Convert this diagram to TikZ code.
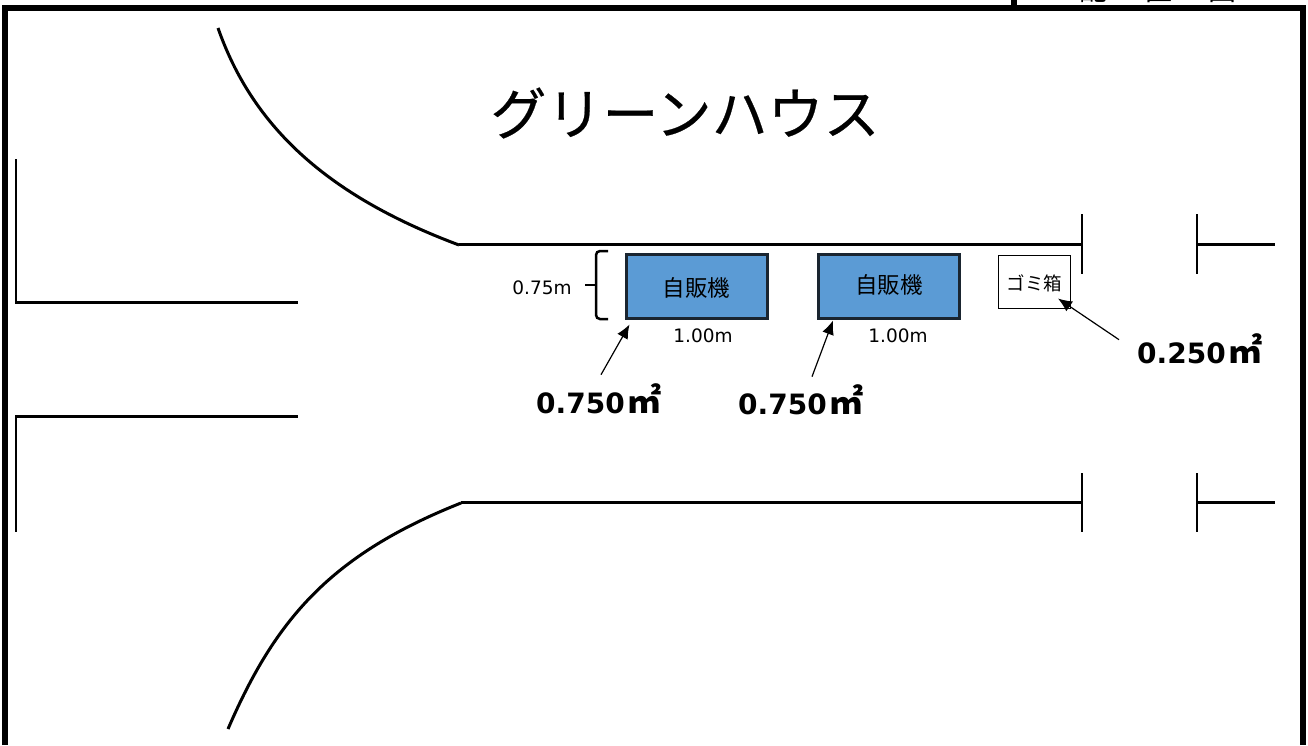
\documentclass[tikz,border=0pt]{standalone}
\usepackage{fontspec}
\setmainfont{DejaVu Sans}
\newfontfamily\jpfont{Noto Sans CJK JP}
\newfontfamily\titlefont[FakeBold=0.4]{Noto Sans CJK JP}
\usepackage{tikz}
\usetikzlibrary{positioning, calc, arrows.meta}
\definecolor{colorbox}{HTML}{5B9BD5}
\definecolor{colorborder}{HTML}{1A2530}
\tikzstyle{road}=[line width=3pt]
\tikzstyle{post}=[line width=2.5pt]
\tikzstyle{wall}=[line width=6pt]
\tikzstyle{infer}=[line width=1.2pt, -{Latex[length=14pt,width=12pt]}]
\tikzstyle{vending}=[draw=colorborder, line width=3pt, fill=colorbox, minimum width=141pt, minimum height=64pt, inner sep=0pt, font=\jpfont\fontsize{22.5}{24}\selectfont]
\tikzstyle{dim}=[inner sep=0pt, font=\fontsize{18.5}{20}\selectfont]
\tikzstyle{area}=[inner sep=0pt, font=\bfseries\fontsize{28}{30}\selectfont]
\newcommand{\sqm}{\hspace{3pt}{\jpfont\bfseries\fontsize{34}{34}\selectfont ㎡}}

\begin{document}
\begin{tikzpicture}[x=1pt,y=-1pt]
\useasboundingbox (0,0) rectangle (1308,745);

% frame
\draw[wall] (5,745) -- (5,8) -- (1302.5,8) -- (1302.5,745);
\draw[wall] (1014,0) -- (1014,5);
\node[inner sep=0pt, anchor=south, font=\jpfont\fontsize{28}{30}\selectfont](sheet) at (1158,3){配\hspace{37pt}置\hspace{37pt}図};

\node[inner sep=0pt, font=\titlefont\fontsize{56}{60}\selectfont](title) at (685,113){グリーンハウス};

% upper road
\draw[road] (218,28) .. controls (252,125) and (325,195) .. (459,245);
\draw[road] (459,244) -- (1082,244);
\draw[post] (1082,214) -- (1082,274);
\draw[post] (1197,214) -- (1197,274);
\draw[road] (1197,244) -- (1275,244);

% lower road
\draw[road] (228,729) .. controls (275,620) and (330,555) .. (461,503);
\draw[road] (461,502.5) -- (1082,502.5);
\draw[post] (1082,473) -- (1082,532);
\draw[post] (1197,473) -- (1197,532);
\draw[road] (1197,502.5) -- (1275,502.5);

% side street
\draw[post] (16,159) -- (16,302.5);
\draw[road] (15,302.5) -- (298,302.5);
\draw[road] (15,416) -- (298,416);
\draw[post] (16,416) -- (16,532);

\node[vending](box1) at (696.5,286){\raisebox{-10.5pt}[0pt][0pt]{自販機}};
\node[vending, right=48.5pt of box1](box2){\raisebox{-7pt}[0pt][0pt]{自販機}};
\node[draw, line width=1pt, minimum width=72pt, minimum height=53pt, inner sep=0pt, font=\jpfont\fontsize{18.5}{20}\selectfont](trash) at (1034.5,281.5){\raisebox{-8.5pt}[0pt][0pt]{ゴミ箱}\hspace{4pt}};

\node[dim](width1) at (703,336){1.00m};
\node[dim](width2) at (898,336){1.00m};
\node[dim](depth) at (542,288){0.75m};

% brace
\draw[line width=2.5pt, rounded corners=4pt] (608,251) -- (596,251) -- (596,319) -- (608,319);
\draw[line width=2.5pt] (585,285) -- (596,285);

\node[area](area1) at (599,399){0.750\sqm};
\node[area](area2) at (801,400){0.750\sqm};
\node[area](area3) at (1200,349){0.250\sqm};

\draw[infer] ($(area1.north)+(2,-9)$) -- ($(box1.south west)+(5,5)$);
\draw[infer] ($(area2.north)+(11,-8)$) -- ($(box2.south west)+(16,1)$);
\draw[infer] ($(area3.north west)+(-18,6)$) -- ($(trash.south east)+(-13,-10)$);

\end{tikzpicture}
\end{document}
